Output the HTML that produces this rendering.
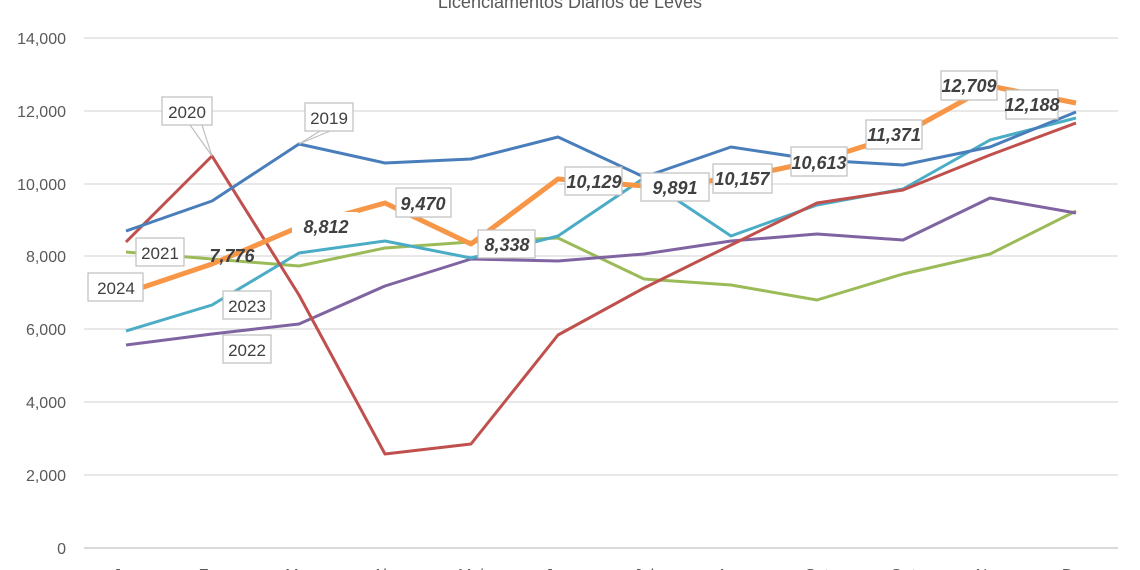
<!DOCTYPE html><html><head><style>body{margin:0;background:#fff}svg{display:block}text{font-family:"Liberation Sans",sans-serif}</style></head><body>
<svg width="1140" height="570" viewBox="0 0 1140 570">
<text x="570" y="8" text-anchor="middle" font-size="18" fill="#595959">Licenciamentos Diários de Leves</text>
<g stroke="#d9d9d9" stroke-width="1.3">
<line x1="84" x2="1118" y1="38" y2="38"/><line x1="84" x2="1118" y1="111" y2="111"/><line x1="84" x2="1118" y1="184" y2="184"/><line x1="84" x2="1118" y1="256" y2="256"/><line x1="84" x2="1118" y1="329" y2="329"/><line x1="84" x2="1118" y1="402" y2="402"/><line x1="84" x2="1118" y1="475" y2="475"/><line x1="84" x2="1118" y1="548" y2="548" stroke-width="2"/></g>
<g font-size="16" fill="#595959" text-anchor="end">
<text x="66" y="44">14,000</text><text x="66" y="117">12,000</text><text x="66" y="190">10,000</text><text x="66" y="262">8,000</text><text x="66" y="335">6,000</text><text x="66" y="408">4,000</text><text x="66" y="481">2,000</text><text x="66" y="554">0</text></g>
<g font-size="16" fill="#595959" text-anchor="middle">
<text x="126" y="580">Jan</text><text x="212" y="580">Fev</text><text x="299" y="580">Mar</text><text x="385" y="580">Abr</text><text x="471" y="580">Mai</text><text x="558" y="580">Jun</text><text x="644" y="580">Jul</text><text x="731" y="580">Ago</text><text x="817" y="580">Set</text><text x="903" y="580">Out</text><text x="990" y="580">Nov</text><text x="1076" y="580">Dez</text></g>
<g fill="none" stroke-width="3" stroke-linejoin="round">
<polyline stroke="#9bbb59" points="126,252 212,259 299,266 385,248 471,242 558,238 644,279 731,285 817,300 903,274 990,254 1076,211"/>
<polyline stroke="#8064a2" points="126,345 212,334 299,324 385,286 471,259 558,261 644,254 731,241 817,234 903,240 990,198 1076,213"/>
<polyline stroke="#4bacc6" points="126,331 212,305 299,253 385,241 471,258 558,236 644,178 731,236 817,205 903,189 990,140 1076,118"/>
<polyline stroke="#c0504d" points="126,242 212,156 299,295 385,454 471,444 558,335 644,288 731,245 817,203 903,190 990,155 1076,123"/>
<polyline stroke="#4a7ebb" points="126,231 212,201 299,144 385,163 471,159 558,137 644,177 731,147 817,160 903,165 990,147 1076,112"/>
<polyline stroke="#f79646" stroke-width="5" points="126,293 212,264 299,227 385,203 471,244 558,179 644,186 731,179 817,161 903,134 990,86 1076,103"/>
</g>
<g fill="#fff" stroke="#bfbfbf" stroke-width="1.2">
<rect x="162" y="97" width="50" height="28"/><rect x="305" y="103" width="48" height="28"/>
<rect x="136" y="238" width="48" height="28"/><rect x="88" y="273" width="55" height="28"/>
<rect x="223" y="291" width="48" height="28"/><rect x="223" y="335" width="48" height="28"/>
</g>
<g stroke="#bfbfbf" stroke-width="1.2" fill="none"><polyline points="190,125 212,156 202,125"/><polyline points="320,131 299,144 330,131"/></g>
<g font-size="17" fill="#404040" text-anchor="middle">
<text x="187" y="118">2020</text><text x="329" y="124">2019</text><text x="160" y="259">2021</text><text x="116" y="294">2024</text><text x="247" y="312">2023</text><text x="247" y="356">2022</text></g>
<g fill="#fff" stroke="#bfbfbf" stroke-width="1.2">
<rect x="396" y="188" width="55" height="29"/><rect x="478" y="230" width="57" height="28"/>
<rect x="565" y="167" width="57" height="28"/><rect x="641" y="173" width="68" height="28"/>
<rect x="713" y="164" width="59" height="29"/><rect x="791" y="147" width="56" height="29"/>
<rect x="866" y="120" width="56" height="29"/><rect x="941" y="71" width="56" height="29"/>
<rect x="1006" y="90" width="52" height="29"/>
</g>
<rect x="292" y="212" width="66" height="26" fill="#fff"/>
<g font-size="18" font-weight="bold" font-style="italic" fill="#404040" text-anchor="middle">
<text x="232" y="262">7,776</text><text x="326" y="233">8,812</text><text x="423" y="210">9,470</text><text x="507" y="251">8,338</text><text x="594" y="188">10,129</text><text x="675" y="194">9,891</text><text x="742" y="185">10,157</text><text x="819" y="169">10,613</text><text x="894" y="141">11,371</text><text x="969" y="92">12,709</text><text x="1032" y="111">12,188</text></g>
</svg></body></html>
